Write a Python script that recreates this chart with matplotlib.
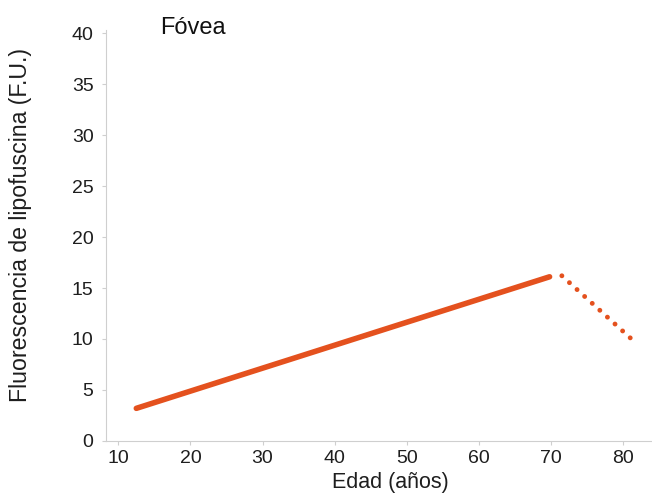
import matplotlib
matplotlib.use("Agg")
import matplotlib.pyplot as plt

# measured trend (solid) and extrapolated decline (dotted)
edad_solida = [12.5, 69.8]
fluor_solida = [3.2, 16.1]
edad_punteada = [71.5, 81.0]
fluor_punteada = [16.2, 10.1]

x_ticks = [10, 20, 30, 40, 50, 60, 70, 80]
y_ticks = [0, 5, 10, 15, 20, 25, 30, 35, 40]

COLOR = "#e4511e"
TEXT = "#1e1e1e"
plt.rcParams['font.family'] = ['Liberation Sans', 'DejaVu Sans']

fig = plt.figure(figsize=(6.52, 4.97), dpi=100)
ax = fig.add_axes([0.1626, 0.1127, 0.8374, 0.827])

ax.plot(edad_solida, fluor_solida, color=COLOR, linewidth=4, solid_capstyle='round')
ax.plot(edad_punteada, fluor_punteada, color=COLOR, linewidth=3.5,
        linestyle=(0, (0.01, 2.1)), dash_capstyle='round')

ax.set_xlim(8.3, 84)
ax.set_ylim(0, 40.3)
ax.set_xticks(x_ticks)
ax.set_yticks(y_ticks)
for s in ['top', 'right']:
    ax.spines[s].set_visible(False)
for s in ['left', 'bottom']:
    ax.spines[s].set_color('#cfcfcf')
ax.tick_params(colors='#cfcfcf', labelcolor=TEXT, labelsize=14, length=3)
ax.tick_params(axis='y', pad=6)

ax.set_xlabel("Edad (años)", fontsize=15.5, color=TEXT)
ax.xaxis.set_label_coords(0.52, -0.075)
ax.set_ylabel("Fluorescencia de lipofuscina (F.U.)", fontsize=16.7, color=TEXT)
ax.yaxis.set_label_coords(-0.136, 0.526)
ax.text(0.1, 1.006, "Fóvea", transform=ax.transAxes, fontsize=17, color='#111111', va='center')

fig.savefig("out.png", dpi=100)
